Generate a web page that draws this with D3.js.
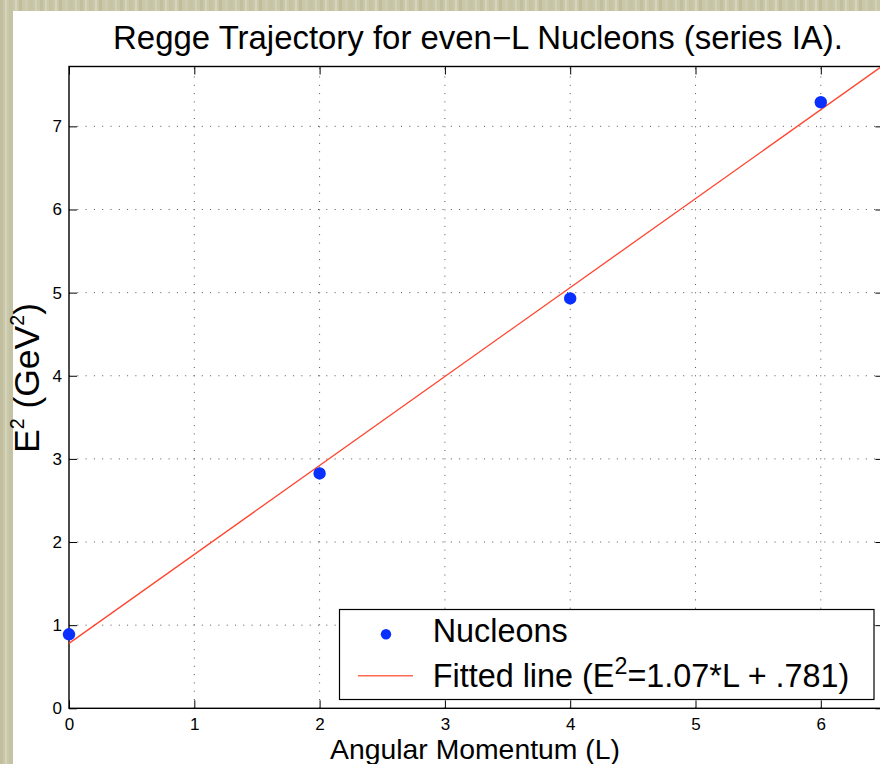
<!DOCTYPE html>
<html><head><meta charset="utf-8">
<script src="https://cdn.jsdelivr.net/npm/d3@7"></script>
<style>body{margin:0;overflow:hidden;background:#fff}svg{display:block}
.tick text{font-family:'Liberation Sans',Arial,Helvetica,sans-serif;font-size:17px;fill:#000}</style>
</head><body>
<svg id="c" width="880" height="764"></svg>
<script>
// ---- data ----
const nucleonL = [0, 2, 4, 6];
const nucleonE2 = [0.89, 2.825, 4.93, 7.29];
const fitL = [0, 6.5];
const fitE2 = [0.781, 7.736];
const xTicks = [0, 1, 2, 3, 4, 5, 6];
const yTicks = [0, 1, 2, 3, 4, 5, 6, 7];
const titleText = "Regge Trajectory for even\u2212L Nucleons (series IA).";
const xLabelText = "Angular Momentum (L)";
const legendNames = ["Nucleons", "Fitted line"];
const fitFormula = ["1.07", ".781"];

const svg = d3.select("#c");
const FONT = "'Liberation Sans', Arial, Helvetica, sans-serif";

// textured beige background
const defs = svg.append("defs");
const pat = defs.append("pattern").attr("id","tex").attr("patternUnits","userSpaceOnUse")
  .attr("width",40).attr("height",40);
pat.append("rect").attr("width",40).attr("height",40).attr("fill","#cac8aa");
const stripes = [[0,3,"#c0be9c"],[5,2,"#d4d2b8"],[9,4,"#c5c3a3"],[15,2,"#d6d4bc"],[19,3,"#bfbd9a"],[25,2,"#cecdb1"],[29,4,"#c6c4a4"],[35,2,"#d2d0b5"]];
stripes.forEach(s=>pat.append("rect").attr("x",s[0]).attr("width",s[1]).attr("height",40).attr("fill",s[2]));
svg.append("rect").attr("width",880).attr("height",764).attr("fill","url(#tex)");
svg.append("rect").attr("x",13).attr("y",11).attr("width",880).attr("height",764).attr("fill","#fff");

const L = 69, T = 66.5, B = 708.3;
const x = d3.scaleLinear().domain([0, 6.5]).range([L, L + 6.5*125.3]);
const y = d3.scaleLinear().domain([0, 7.72]).range([B, T]);
const R = x(6.5);

const g = svg.append("g");

// grid
const dash = "1,7.3";
g.selectAll(".gx").data(xTicks.filter(d=>d>0)).enter().append("line")
  .attr("x1",d=>x(d)).attr("x2",d=>x(d)).attr("y1",B).attr("y2",T)
  .attr("stroke","#555").attr("stroke-width",1).attr("stroke-dasharray",dash);
g.selectAll(".gy").data(yTicks.filter(d=>d>0)).enter().append("line")
  .attr("y1",d=>y(d)).attr("y2",d=>y(d)).attr("x1",L).attr("x2",R)
  .attr("stroke","#555").attr("stroke-width",1).attr("stroke-dasharray",dash);

// axes (inward ticks on all sides)
const tk = 8;
const axB = d3.axisBottom(x).tickValues(xTicks).tickSize(-tk).tickPadding(10).tickFormat(d3.format("d"));
const axL = d3.axisLeft(y).tickValues(yTicks).tickSize(-tk).tickPadding(7).tickFormat(d3.format("d"));
const axT = d3.axisTop(x).tickValues(xTicks).tickSize(-tk).tickFormat("");
const axR = d3.axisRight(y).tickValues(yTicks).tickSize(-tk).tickFormat("");
function styleAxis(sel){
  sel.select(".domain").remove();
  sel.selectAll("line").attr("stroke","#000").attr("stroke-width",1);
  sel.attr("font-size",17).attr("font-family",FONT);
  sel.selectAll("text").style("font-size","17px").style("fill","#000");
}
const gB = g.append("g").attr("transform",`translate(0,${B})`).call(axB);
styleAxis(gB);
const gL = g.append("g").attr("transform",`translate(${L},0)`).call(axL);
styleAxis(gL);
const gT = g.append("g").attr("transform",`translate(0,${T})`).call(axT);
styleAxis(gT);
const gR = g.append("g").attr("transform",`translate(${R},0)`).call(axR);
styleAxis(gR);
g.append("rect").attr("x",L).attr("y",T).attr("width",R-L).attr("height",B-T)
  .attr("fill","none").attr("stroke","#000").attr("stroke-width",1.4);

// fit line
const line = d3.line().x(d=>x(d[0])).y(d=>y(d[1]));
g.append("path").datum(fitL.map((d,i)=>[d,fitE2[i]])).attr("d",line)
  .attr("fill","none").attr("stroke","#ff4630").attr("stroke-width",1.3);

// points
g.selectAll(".pt").data(nucleonL.map((d,i)=>[d,nucleonE2[i]])).enter().append("circle")
  .attr("cx",d=>x(d[0])).attr("cy",d=>y(d[1])).attr("r",6.2).attr("fill","#0a30ff");

// helper to fit text width
function fitText(sel, targetW){
  const w = sel.node().getComputedTextLength();
  const fs = parseFloat(sel.attr("font-size"));
  sel.attr("font-size", fs*targetW/w);
}

// title
const title = svg.append("text").attr("x",(113+843)/2).attr("y",48.5).attr("text-anchor","middle")
  .attr("font-family",FONT).attr("font-size",28).text(titleText);
fitText(title, 730);

// x label
const xl = svg.append("text").attr("x",475).attr("y",759).attr("text-anchor","middle")
  .attr("font-family",FONT).attr("font-size",24).text(xLabelText);
fitText(xl, 290);

// y label
const yl = svg.append("text").attr("transform","translate(39,378) rotate(-90)").attr("text-anchor","middle")
  .attr("font-family",FONT).attr("font-size",26);
yl.append("tspan").text("E");
yl.append("tspan").attr("font-size","0.55em").attr("dy","-0.75em").text("2");
yl.append("tspan").attr("dy","0.41em").text(" (GeV");
yl.append("tspan").attr("font-size","0.55em").attr("dy","-0.75em").text("2");
yl.append("tspan").attr("dy","0.41em").text(")");
fitText(yl, 150);

// legend
const lg = svg.append("g");
lg.append("rect").attr("x",339.5).attr("y",609.5).attr("width",534.5).attr("height",90)
  .attr("fill","#fff").attr("stroke","#000").attr("stroke-width",1.2);
lg.append("circle").attr("cx",386).attr("cy",634.3).attr("r",5.2).attr("fill","#0a30ff");
lg.append("line").attr("x1",358).attr("x2",413).attr("y1",675.7).attr("y2",675.7)
  .attr("stroke","#ff6a55").attr("stroke-width",1.5);
const t1 = lg.append("text").attr("x",432.7).attr("y",641.7).attr("font-family",FONT)
  .attr("font-size",28).text(legendNames[0]);
fitText(t1, 135);
const t2 = lg.append("text").attr("x",432.7).attr("y",686.7).attr("font-family",FONT)
  .attr("font-size",t1.attr("font-size"));
t2.append("tspan").text(legendNames[1] + " (E");
t2.append("tspan").attr("font-size","0.72em").attr("dy","-0.55em").text("2");
t2.append("tspan").attr("dy","0.4em").text(`=${fitFormula[0]}*L + ${fitFormula[1]})`);
</script>
</body></html>
